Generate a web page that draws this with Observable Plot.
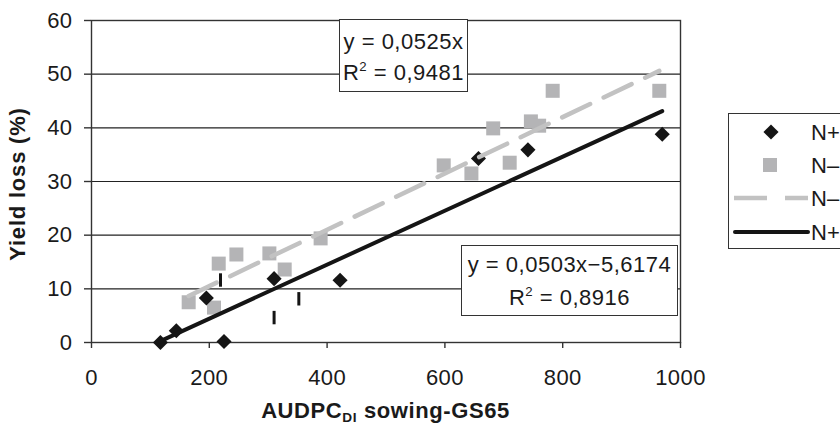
<!DOCTYPE html>
<html><head><meta charset="utf-8">
<script src="https://cdn.jsdelivr.net/npm/d3@7"></script>
<script src="https://cdn.jsdelivr.net/npm/@observablehq/plot@0.6"></script>
<style>
html,body{margin:0;padding:0;background:#fff;overflow:hidden;width:840px;height:427px}
#wrap{position:relative;width:840px;height:427px;font-family:"Liberation Sans",Arial,sans-serif;color:#1a1a1a;overflow:hidden}
.eq{position:absolute;background:#fff;border:1px solid #333;box-sizing:border-box;font-size:22px;letter-spacing:0.5px;text-align:center;white-space:nowrap}
.eq sup{font-size:0.6em;vertical-align:0.7em;line-height:0}
#xt{position:absolute;left:91px;width:589px;top:398px;text-align:center;font-weight:bold;font-size:22px;letter-spacing:0.6px;line-height:26px;white-space:nowrap}
#xt sub{font-size:0.62em;vertical-align:-0.3em;line-height:0}
#yt{position:absolute;left:18px;top:184px;transform:translate(-50%,-50%) rotate(-90deg);font-weight:bold;font-size:22px;letter-spacing:0.8px;white-space:nowrap;line-height:26px}
</style>
</head><body><div id="wrap"></div>
<script>
// ---- data ----
const nPlusX = [117, 144, 195, 225, 310, 422, 657, 741, 969];
const nPlusY = [0, 2.2, 8.3, 0.2, 11.9, 11.6, 34.3, 35.9, 38.8];
const nMinusX = [165, 208, 216, 246, 302, 328, 389, 598, 645, 682, 710, 746, 760, 783, 964];
const nMinusY = [7.5, 6.5, 14.7, 16.4, 16.6, 13.6, 19.4, 33.0, 31.5, 39.9, 33.5, 41.2, 40.4, 46.9, 46.9];
// small stray vertical marks in the figure
const strayX = [219, 310, 352];
const strayY1 = [10.3, 3.3, 6.8];
const strayY2 = [12.8, 5.8, 9.3];
// trend line coefficients (from the equations shown)
const trendNames = ["N-", "N+"];
const trendSlope = [0.0525, 0.0503];
const trendIntercept = [0, -5.6174];
const eqTexts = [["y = 0,0525x", "R<sup>2</sup> = 0,9481"], ["y = 0,0503x\u22125,6174", "R<sup>2</sup> = 0,8916"]];
const xTicks = [0, 200, 400, 600, 800, 1000];
const yTicks = [0, 10, 20, 30, 40, 50, 60];
const legendLabels = ["N+", "N\u2013", "N\u2013", "N+"];

const nPlus = nPlusX.map((x, i) => ({x, y: nPlusY[i]}));
const nMinus = nMinusX.map((x, i) => ({x, y: nMinusY[i]}));
const stray = strayX.map((x, i) => ({x, y1: strayY1[i], y2: strayY2[i]}));
function trend(k, xs) {
  const lo = d3.min(xs), hi = d3.max(xs);
  return [lo, hi].map(x => ({x, y: trendSlope[k] * x + trendIntercept[k]}));
}
const trendMinus = trend(0, nMinusX);
const trendPlus = trend(1, nPlusX);

const black = "#151515", grey = "#b4b4b6", greyLine = "#c2c2c2";

const chart = Plot.plot({
  width: 840, height: 427,
  marginLeft: 91, marginRight: 160, marginTop: 20, marginBottom: 85,
  style: {fontFamily: "Liberation Sans, Arial, sans-serif", fontSize: "22px", letterSpacing: "0.4px", color: "#1a1a1a", background: "transparent", position: "absolute", left: "0px", top: "0px"},
  x: {domain: [0, 1000], label: null},
  y: {domain: [0, 60], label: null},
  marks: [
    Plot.gridY(yTicks, {stroke: "#222", strokeOpacity: 1, strokeWidth: 1.1}),
    Plot.frame({stroke: "#333", strokeWidth: 1.4}),
    Plot.axisX(xTicks, {tickSize: 6, tickPadding: 21, tickFormat: d3.format("d"), stroke: "#333", strokeWidth: 1.4}),
    Plot.axisY(yTicks, {tickSize: 7, tickPadding: 12, tickFormat: d3.format("d"), stroke: "#333", strokeWidth: 1.4}),
    Plot.dot(nMinus, {x: "x", y: "y", symbol: "square", r: 7.9, fill: grey}),
    Plot.dot(nPlus, {x: "x", y: "y", symbol: "diamond2", r: 6.8, fill: black}),
    Plot.ruleX(stray, {x: "x", y1: "y1", y2: "y2", stroke: black, strokeWidth: 3}),
    Plot.line(trendMinus, {x: "x", y: "y", stroke: greyLine, strokeWidth: 4.5, strokeDasharray: "31,15"}),
    Plot.line(trendPlus, {x: "x", y: "y", stroke: black, strokeWidth: 4})
  ]
});
const wrap = document.getElementById("wrap");
wrap.appendChild(chart);

// equation boxes
const boxes = [
  {left: 339, top: 19, w: 129, h: 73, lh: 31, pt: 6},
  {left: 461, top: 245, w: 217, h: 71, lh: 33, pt: 2}
];
boxes.forEach((b, i) => {
  const d = document.createElement("div");
  d.className = "eq";
  Object.assign(d.style, {left: b.left + "px", top: b.top + "px", width: b.w + "px", height: b.h + "px", lineHeight: b.lh + "px", paddingTop: b.pt + "px"});
  d.innerHTML = eqTexts[i].join("<br>");
  wrap.appendChild(d);
});

// axis titles
const xt = document.createElement("div"); xt.id = "xt";
xt.innerHTML = "AUDPC<sub>DI</sub> sowing-GS65"; wrap.appendChild(xt);
const yt = document.createElement("div"); yt.id = "yt";
yt.textContent = "Yield loss (%)"; wrap.appendChild(yt);

// legend
const lg = d3.create("svg").attr("width", 140).attr("height", 137)
  .style("position", "absolute").style("left", "728px").style("top", "113px")
  .style("font-family", "Liberation Sans, Arial, sans-serif").style("font-size", "22px");
lg.append("rect").attr("x", 0.5).attr("y", 0.5).attr("width", 160).attr("height", 135).attr("fill", "#fff").attr("stroke", "#333");
const rows = [19, 52, 85, 119];
lg.append("path").attr("transform", `translate(43,${rows[0]})`).attr("d", d3.symbol(d3.symbolDiamond2, Math.PI * 6.8 * 6.8)()).attr("fill", black);
lg.append("path").attr("transform", `translate(42,${rows[1]})`).attr("d", d3.symbol(d3.symbolSquare, Math.PI * 7.9 * 7.9)()).attr("fill", grey);
lg.append("line").attr("x1", 6).attr("x2", 80).attr("y1", rows[2]).attr("y2", rows[2]).attr("stroke", greyLine).attr("stroke-width", 4.5).attr("stroke-dasharray", "33,18");
lg.append("line").attr("x1", 7).attr("x2", 80).attr("y1", rows[3]).attr("y2", rows[3]).attr("stroke", black).attr("stroke-width", 4).attr("stroke-linecap", "round");
legendLabels.forEach((t, i) => lg.append("text").attr("x", 83).attr("y", rows[i]).attr("dy", "0.36em").attr("fill", "#1a1a1a").text(t));
wrap.appendChild(lg.node());
</script></body></html>
